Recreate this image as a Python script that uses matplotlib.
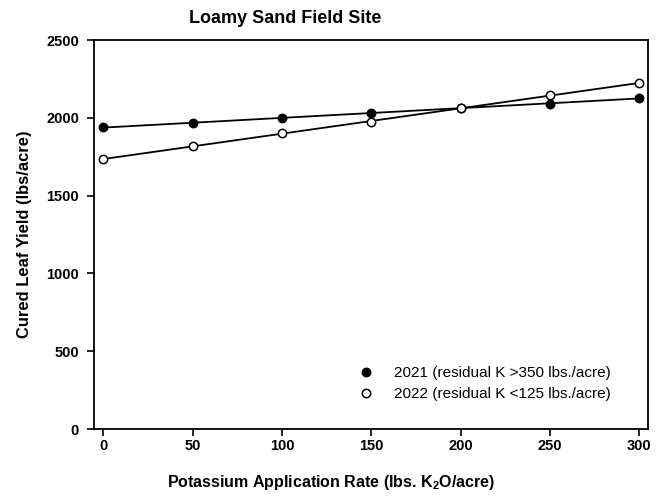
import matplotlib
matplotlib.use("Agg")
import matplotlib.pyplot as plt
import numpy as np

plt.rcParams['font.family'] = ['Liberation Sans', 'DejaVu Sans']
plt.rcParams['mathtext.default'] = 'regular'

rate = np.array([0, 50, 100, 150, 200, 250, 300])
yield_2021 = np.array([1939, 1965, 2001, 2033, 2062, 2087, 2129])
yield_2022 = np.array([1733, 1820, 1900, 1971, 2065, 2146, 2222])

label_2021 = "2021 (residual K >350 lbs./acre)"
label_2022 = "2022 (residual K <125 lbs./acre)"

fig = plt.figure(figsize=(6.62, 4.97), dpi=100)
ax = fig.add_axes([0.1424, 0.1368, 0.8369, 0.7827])

xfit = np.array([0, 300])
for y, fill, lab in [(yield_2021, 'black', label_2021), (yield_2022, 'white', label_2022)]:
    m, b = np.polyfit(rate, y, 1)
    ax.plot(xfit, m * xfit + b, color='black', lw=1.3, zorder=2)
    ax.plot(rate, y, 'o', ms=6, mfc=fill, mec='black', mew=1.1, label=lab, zorder=3)

ax.set_xlim(-5, 305)
ax.set_ylim(0, 2500)
ax.set_xticks(range(0, 301, 50))
ax.set_yticks(range(0, 2501, 500))
ax.tick_params(direction='out', length=5, width=1.2, labelsize=10.5)
ax.tick_params(axis='x', pad=2.5)
ax.tick_params(axis='y', pad=6)
for t in ax.get_xticklabels() + ax.get_yticklabels():
    t.set_fontweight('bold')
for s in ax.spines.values():
    s.set_linewidth(1.3)

fig.text(0.4305, 0.963, "Loamy Sand Field Site", fontsize=13, fontweight='bold', ha='center', va='center')
fig.text(0.5, 0.03, "Potassium Application Rate (lbs. K$_2$O/acre)", fontsize=11.5, fontweight='bold', ha='center', va='center')
ax.set_ylabel("Cured Leaf Yield (lbs/acre)", fontsize=11.9, fontweight='bold', labelpad=10)

ax.legend(loc='center left', bbox_to_anchor=(0.452, 0.116), frameon=False, fontsize=11,
          handletextpad=1.3, labelspacing=0.45, handlelength=1.0, borderpad=0.4)

fig.savefig("out.png", dpi=100)
